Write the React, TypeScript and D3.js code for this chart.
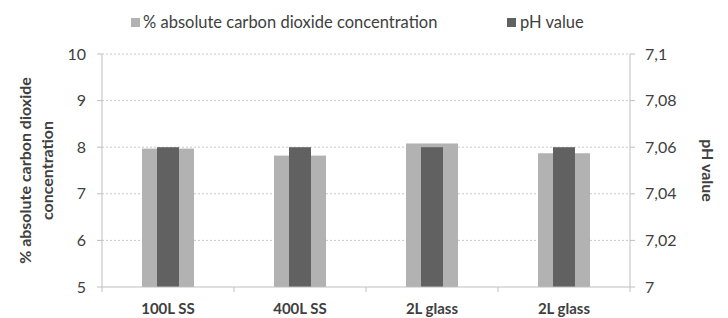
import * as d3 from 'd3'

const categories = ['100L SS', '400L SS', '2L glass', '2L glass']
const co2Values = [7.97, 7.82, 8.08, 7.87]
const phValues = [7.06, 7.06, 7.06, 7.06]
const leftTicks = [5, 6, 7, 8, 9, 10]
const rightTicks = [7, 7.02, 7.04, 7.06, 7.08, 7.1]

const LIGHT = '#b2b2b2'
const DARK = '#616161'
const AXIS = '#bfbfbf'
const TEXT = '#404040'
const FONT = 'Lato, "Open Sans", sans-serif'

export default function App() {
  const width = 728
  const height = 318
  const left = 102
  const right = 630
  const top = 54
  const bottom = 287

  const x = d3.scaleBand<number>().domain(d3.range(categories.length)).range([left, right])
  const yL = d3.scaleLinear().domain([5, 10]).range([bottom, top])
  const yR = d3.scaleLinear().domain([7, 7.1]).range([bottom, top])

  const lightW = 52
  const darkW = 22

  return (
    <svg width={width} height={height} style={{position: 'absolute', left: 0, top: 0}} fontFamily={FONT}>
      <rect width={width} height={height} fill="#fff" />
      {/* gridlines */}
      {leftTicks.slice(1).map(t => (
        <line key={t} x1={left} x2={right} y1={yL(t)} y2={yL(t)} stroke="#c8c8c8" strokeDasharray="2,2" />
      ))}
      {/* bars */}
      {categories.map((c, i) => {
        const cx = x(i)! + x.bandwidth() / 2
        return (
          <g key={i}>
            <rect x={cx - lightW / 2} y={yL(co2Values[i])} width={lightW} height={bottom - yL(co2Values[i])} fill={LIGHT} />
            <rect x={cx - darkW / 2} y={yR(phValues[i])} width={darkW} height={bottom - yR(phValues[i])} fill={DARK} />
          </g>
        )
      })}
      {/* axes */}
      <line x1={left} x2={left} y1={top} y2={bottom} stroke={AXIS} />
      <line x1={right} x2={right} y1={top} y2={bottom} stroke={AXIS} />
      <line x1={left} x2={right} y1={bottom} y2={bottom} stroke={AXIS} />
      {d3.range(categories.length + 1).map(i => {
        const px = left + i * x.step()
        return <line key={i} x1={px} x2={px} y1={bottom} y2={bottom + 5} stroke={AXIS} />
      })}
      {leftTicks.map(t => (
        <g key={t}>
          <line x1={left - 5} x2={left} y1={yL(t)} y2={yL(t)} stroke={AXIS} />
          <text x={86} y={yL(t)} dy="0.35em" textAnchor="end" fontSize={16} fill={TEXT}>{t}</text>
        </g>
      ))}
      {rightTicks.map(t => (
        <g key={t}>
          <line x1={right} x2={right + 5} y1={yR(t)} y2={yR(t)} stroke={AXIS} />
          <text x={645} y={yR(t)} dy="0.35em" fontSize={16} fill={TEXT}>{String(+t.toFixed(2)).replace('.', ',')}</text>
        </g>
      ))}
      {/* category labels */}
      {categories.map((c, i) => (
        <text key={i} x={x(i)! + x.bandwidth() / 2} y={309} dy="0.35em" textAnchor="middle" fontSize={15} fontWeight={700} fill={TEXT}>{c}</text>
      ))}
      {/* axis titles */}
      <text transform={`translate(31, ${(top + bottom) / 2}) rotate(-90)`} textAnchor="middle" fontSize={16} fontWeight={700} fill={TEXT}>
        % absolute carbon dioxide
      </text>
      <text transform={`translate(53, ${(top + bottom) / 2}) rotate(-90)`} textAnchor="middle" fontSize={16} fontWeight={700} fill={TEXT}>
        concentration
      </text>
      <text transform={`translate(702, ${(top + bottom) / 2}) rotate(90)`} textAnchor="middle" fontSize={16} fontWeight={700} fill={TEXT}>
        pH value
      </text>
      {/* legend */}
      <rect x={131} y={18} width={9} height={9} fill={LIGHT} />
      <text x={143} y={22.5} dy="0.35em" fontSize={16.5} fill={TEXT}>% absolute carbon dioxide concentration</text>
      <rect x={507} y={18} width={9} height={9} fill={DARK} />
      <text x={520} y={22.5} dy="0.35em" fontSize={16.5} fill={TEXT}>pH value</text>
    </svg>
  )
}
